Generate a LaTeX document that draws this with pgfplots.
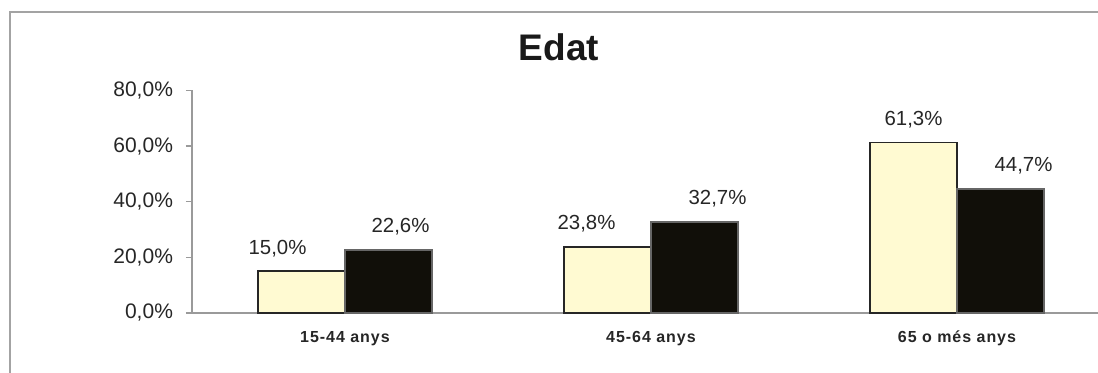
\documentclass[border=0pt]{standalone}
\usepackage{pgfplots}
\usepackage{pgfplotstable}
\pgfplotsset{compat=1.18}
\usepackage{fontspec}
\setmainfont{Liberation Sans}
\definecolor{cream}{HTML}{FFFAD2}
\definecolor{darkbar}{HTML}{110F09}
\definecolor{framegray}{HTML}{A3A3A3}
\definecolor{axisgray}{HTML}{9A9A9A}
\pgfplotstableread{
x y dx
0 15.0 -12
1 23.8 -10.5
2 61.3 0
}\seriesA
\pgfplotstableread{
x y dx
0 22.6 6
1 32.7 11.5
2 44.7 11.5
}\seriesB
\begin{document}
\begin{tikzpicture}[x=1pt,y=1pt]
\useasboundingbox (-96pt,-29.5pt) rectangle (453pt,156.5pt);
\draw[framegray, line width=1pt] (-91pt,-40pt) -- (-91pt,150.5pt) -- (470pt,150.5pt);
\begin{axis}[
  at={(0pt,0pt)}, anchor=south west,
  scale only axis,
  width=459pt, height=111.3pt,
  xmin=-0.5, xmax=2.5,
  ymin=0, ymax=80,
  ybar=0pt, bar width=43.5pt,
  axis x line*=bottom, axis y line*=left,
  axis line style={axisgray, line width=0.6pt},
  x axis line style={-}, y axis line style={-},
  xtick={0,1,2},
  xticklabels={15-44 anys,45-64 anys,65 o més anys},
  major x tick style={draw=none},
  extra x ticks={0.5,1.5},
  extra x tick labels={},
  extra x tick style={major tick length=4pt, tick style={axisgray, line width=0.6pt, draw=axisgray}, tick align=outside},
  xticklabel style={font=\fontsize{8}{9}\selectfont\bfseries\addfontfeature{LetterSpace=6}, text=black!85, yshift=-2.5pt},
  ytick={0,20,40,60,80},
  ytick style={axisgray, line width=0.6pt},
  tick align=outside,
  major tick length=3pt,
  /pgf/number format/assume math mode=true,
  yticklabel={\pgfmathprintnumber[fixed,fixed zerofill,precision=1,use comma]{\tick}\%},
  yticklabel style={font=\fontsize{10.5}{12}\selectfont, text=black!85, xshift=-3pt},
  nodes near coords={\pgfmathprintnumber[fixed,fixed zerofill,precision=1,use comma]{\pgfplotspointmeta}\%},
  nodes near coords style={font=\fontsize{10.2}{12}\selectfont, text=black!85, anchor=south, yshift=3.5pt, xshift=\dxval*1pt},
  clip=false,
  title={\textbf{Edat}},
  title style={font=\fontsize{18.5}{22}\selectfont, text=black!90, at={(183.5pt,127pt)}, anchor=center},
]
\addplot[fill=cream, draw=black!85, line width=0.9pt,
  visualization depends on={\thisrow{dx} \as \dxval}] table[x=x,y=y] {\seriesA};
\addplot[fill=darkbar, draw=black!60, line width=0.9pt,
  visualization depends on={\thisrow{dx} \as \dxval}] table[x=x,y=y] {\seriesB};
\end{axis}
\end{tikzpicture}
\end{document}
